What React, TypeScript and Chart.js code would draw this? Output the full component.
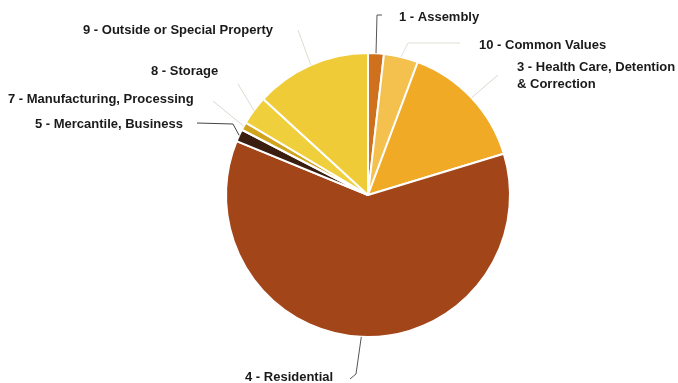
import React, { useEffect, useRef } from "react";
import { Chart, registerables } from "chart.js";

Chart.register(...registerables);

const categories = [
  "1 - Assembly",
  "10 - Common Values",
  "3 - Health Care, Detention & Correction",
  "4 - Residential",
  "5 - Mercantile, Business",
  "7 - Manufacturing, Processing",
  "8 - Storage",
  "9 - Outside or Special Property",
];
const values = [1.8, 3.9, 14.6, 60.9, 1.4, 0.9, 3.3, 13.2];
const colors = [
  "#cf701c",
  "#f4c04e",
  "#f0aa26",
  "#a2461a",
  "#3a1e10",
  "#cfa41c",
  "#f0cf3c",
  "#f0cb38",
];

// label layout: text lines, text anchor, leader path (after the arc point)
type Lbl = { lines: string[]; x: number; y: number; align: CanvasTextAlign; path: [number, number][]; color: string };
const labelLayout: Lbl[] = [
  { lines: ["1 - Assembly"], x: 399, y: 17, align: "left", path: [[377, 15], [382, 15]], color: "#555" },
  { lines: ["10 - Common Values"], x: 479, y: 45, align: "left", path: [[408, 43], [460, 43]], color: "#e0e0d6" },
  { lines: ["3 - Health Care, Detention", "& Correction"], x: 517, y: 67, align: "left", path: [[498, 75]], color: "#d8d8cc" },
  { lines: ["4 - Residential"], x: 245, y: 377, align: "left", path: [[356, 374], [350, 379]], color: "#555" },
  { lines: ["5 - Mercantile, Business"], x: 183, y: 124, align: "right", path: [[233, 124], [197, 123]], color: "#444" },
  { lines: ["7 - Manufacturing, Processing"], x: 8, y: 99, align: "left", path: [[213, 101]], color: "#d8d8cc" },
  { lines: ["8 - Storage"], x: 151, y: 71, align: "left", path: [[238, 84]], color: "#dcdcd0" },
  { lines: ["9 - Outside or Special Property"], x: 83, y: 30, align: "left", path: [[298, 30]], color: "#dcdcd0" },
];

const labelPlugin = {
  id: "pieLabels",
  afterDraw(chart: any) {
    const ctx = chart.ctx as CanvasRenderingContext2D;
    const meta = chart.getDatasetMeta(0);
    ctx.save();
    meta.data.forEach((arc: any, i: number) => {
      const L = labelLayout[i];
      if (!L) return;
      const { x, y, outerRadius, startAngle, endAngle } = arc.getProps(
        ["x", "y", "outerRadius", "startAngle", "endAngle"],
        true
      );
      const mid = (startAngle + endAngle) / 2;
      const px = x + Math.cos(mid) * outerRadius;
      const py = y + Math.sin(mid) * outerRadius;
      ctx.strokeStyle = L.color;
      ctx.lineWidth = 1;
      ctx.beginPath();
      ctx.moveTo(px, py);
      L.path.forEach(([lx, ly]) => ctx.lineTo(lx, ly));
      ctx.stroke();
      ctx.fillStyle = "#1a1a1a";
      ctx.font = "bold 13px 'Liberation Sans', Arial, sans-serif";
      ctx.textAlign = L.align;
      ctx.textBaseline = "middle";
      L.lines.forEach((t, k) => ctx.fillText(t, L.x, L.y + k * 17));
    });
    ctx.restore();
  },
};

export default function App() {
  const ref = useRef<HTMLCanvasElement>(null);
  useEffect(() => {
    const chart = new Chart(ref.current!, {
      type: "pie",
      data: {
        labels: categories,
        datasets: [
          {
            data: values,
            backgroundColor: colors,
            borderColor: "#ffffff",
            borderWidth: 2,
          },
        ],
      },
      options: {
        responsive: false,
        animation: false,
        layout: { padding: { left: 225, right: 167, top: 52, bottom: 45 } },
        plugins: { legend: { display: false }, tooltip: { enabled: false } },
      },
      plugins: [labelPlugin],
    });
    return () => chart.destroy();
  }, []);
  return (
    <div style={{ position: "fixed", left: 0, top: 0, width: 678, height: 383, background: "#fff" }}>
      <canvas ref={ref} width={678} height={383} />
    </div>
  );
}
